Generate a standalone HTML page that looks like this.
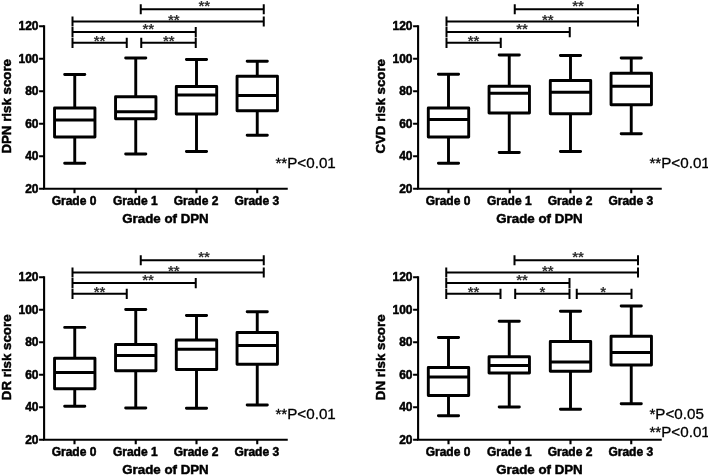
<!DOCTYPE html>
<html><head><meta charset="utf-8"><title>Risk scores by grade of DPN</title>
<style>
html,body{margin:0;padding:0;background:#fff}
svg{display:block}
text{font-family:"Liberation Sans",Arial,sans-serif;fill:#000}
.b{font-weight:bold}
.tk{font-size:12px;font-weight:bold;stroke:#000;stroke-width:.5}
.ti{font-size:13.3px;font-weight:bold;stroke:#000;stroke-width:.5}
.nt{font-size:15.2px;stroke:#000;stroke-width:.3}
.as{font-size:15px;font-weight:bold;fill:#333}
.ln{stroke:#000;stroke-width:2.1;fill:none}
.bx{stroke:#000;stroke-width:2.9;fill:none;stroke-linecap:round;stroke-linejoin:round}
.br{stroke:#000;stroke-width:2;fill:none}
</style></head><body>
<svg width="708" height="476" viewBox="0 0 708 476">
<rect width="708" height="476" fill="#fff"/>
<g transform="translate(0,0)">
<path class="ln" d="M44.1 25.15V189.85M43.05 188.8H287.75"/>
<path class="ln" d="M39.1 188.80H44.1M39.1 156.28H44.1M39.1 123.76H44.1M39.1 91.24H44.1M39.1 58.72H44.1M39.1 26.20H44.1M74.5 188.75V193.2M135.75 188.75V193.2M196.5 188.75V193.2M257.25 188.75V193.2"/>
<text class="tk" x="38.5" y="192.90" text-anchor="end">20</text>
<text class="tk" x="38.5" y="160.38" text-anchor="end">40</text>
<text class="tk" x="38.5" y="127.86" text-anchor="end">60</text>
<text class="tk" x="38.5" y="95.34" text-anchor="end">80</text>
<text class="tk" x="38.5" y="62.82" text-anchor="end">100</text>
<text class="tk" x="38.5" y="30.30" text-anchor="end">120</text>
<text class="tk" x="74.0" y="204.9" text-anchor="middle">Grade 0</text>
<text class="tk" x="135.25" y="204.9" text-anchor="middle">Grade 1</text>
<text class="tk" x="196.0" y="204.9" text-anchor="middle">Grade 2</text>
<text class="tk" x="256.75" y="204.9" text-anchor="middle">Grade 3</text>
<text class="ti" x="165.5" y="223.2" text-anchor="middle">Grade of DPN</text>
<text class="ti" transform="translate(10.5,106.3) rotate(-90)" text-anchor="middle">DPN risk score</text>
<path class="bx" d="M64.65 74.5H84.85M74.75 74.5V108M54.55 108H94.95V137H54.55ZM54.55 120H94.95M74.75 137V163.25M64.65 163.25H84.85"/>
<path class="bx" d="M125.65 58H145.85M135.75 58V96.75M115.55 96.75H155.95V118.75H115.55ZM115.55 111.75H155.95M135.75 118.75V154M125.65 154H145.85"/>
<path class="bx" d="M186.4 59.5H206.6M196.5 59.5V86.5M176.3 86.5H216.7V114H176.3ZM176.3 95H216.7M196.5 114V151.5M186.4 151.5H206.6"/>
<path class="bx" d="M247.15 61.25H267.35M257.25 61.25V76.25M237.05 76.25H277.45V110.75H237.05ZM237.05 95.5H277.45M257.25 110.75V135.25M247.15 135.25H267.35"/>
<path class="br" d="M140.75 4.25V14.35M140.75 9.25H263.75M263.75 4.25V14.35"/>
<text class="as" x="204.25" y="11.00" text-anchor="middle">**</text>
<path class="br" d="M72.5 16.45V26.549999999999997M72.5 21.45H263.75M263.75 16.45V26.549999999999997"/>
<text class="as" x="173.8" y="24.70" text-anchor="middle">**</text>
<path class="br" d="M72.5 27.1V37.2M72.5 32.1H195.75M195.75 27.1V37.2"/>
<text class="as" x="148.3" y="34.25" text-anchor="middle">**</text>
<path class="br" d="M72.5 37.8V47.9M72.5 42.8H126.75M126.75 37.8V47.9"/>
<text class="as" x="99.5" y="45.80" text-anchor="middle">**</text>
<path class="br" d="M141.25 37.8V47.9M141.25 42.8H195.75M195.75 37.8V47.9"/>
<text class="as" x="168.75" y="45.80" text-anchor="middle">**</text>
<text class="nt" x="275.4" y="167.7">**P&lt;0.01</text>
</g>
<g transform="translate(374,0)">
<path class="ln" d="M44.1 25.15V189.85M43.05 188.8H287.75"/>
<path class="ln" d="M39.1 188.80H44.1M39.1 156.28H44.1M39.1 123.76H44.1M39.1 91.24H44.1M39.1 58.72H44.1M39.1 26.20H44.1M74.5 188.75V193.2M135.75 188.75V193.2M196.5 188.75V193.2M257.25 188.75V193.2"/>
<text class="tk" x="38.5" y="192.90" text-anchor="end">20</text>
<text class="tk" x="38.5" y="160.38" text-anchor="end">40</text>
<text class="tk" x="38.5" y="127.86" text-anchor="end">60</text>
<text class="tk" x="38.5" y="95.34" text-anchor="end">80</text>
<text class="tk" x="38.5" y="62.82" text-anchor="end">100</text>
<text class="tk" x="38.5" y="30.30" text-anchor="end">120</text>
<text class="tk" x="74.0" y="204.9" text-anchor="middle">Grade 0</text>
<text class="tk" x="135.25" y="204.9" text-anchor="middle">Grade 1</text>
<text class="tk" x="196.0" y="204.9" text-anchor="middle">Grade 2</text>
<text class="tk" x="256.75" y="204.9" text-anchor="middle">Grade 3</text>
<text class="ti" x="165.5" y="223.2" text-anchor="middle">Grade of DPN</text>
<text class="ti" transform="translate(10.5,106.3) rotate(-90)" text-anchor="middle">CVD risk score</text>
<path class="bx" d="M64.4 74.25H84.6M74.5 74.25V108M54.3 108H94.7V137H54.3ZM54.3 119.5H94.7M74.5 137V163.25M64.4 163.25H84.6"/>
<path class="bx" d="M125.15 55H145.35M135.25 55V86.25M115.05 86.25H155.45V113H115.05ZM115.05 93.25H155.45M135.25 113V152.5M125.15 152.5H145.35"/>
<path class="bx" d="M186.4 55.5H206.6M196.5 55.5V80.5M176.3 80.5H216.7V113.75H176.3ZM176.3 92.25H216.7M196.5 113.75V151.5M186.4 151.5H206.6"/>
<path class="bx" d="M247.15 58H267.35M257.25 58V73.25M237.05 73.25H277.45V104.75H237.05ZM237.05 86.25H277.45M257.25 104.75V133.75M247.15 133.75H267.35"/>
<path class="br" d="M140.75 4.25V14.35M140.75 9.25H264M264 4.25V14.35"/>
<text class="as" x="204" y="11.00" text-anchor="middle">**</text>
<path class="br" d="M72.5 16.45V26.549999999999997M72.5 21.45H264M264 16.45V26.549999999999997"/>
<text class="as" x="173.8" y="24.70" text-anchor="middle">**</text>
<path class="br" d="M72.5 27.1V37.2M72.5 32.1H195.75M195.75 27.1V37.2"/>
<text class="as" x="148" y="34.25" text-anchor="middle">**</text>
<path class="br" d="M72.5 37.8V47.9M72.5 42.8H126.75M126.75 37.8V47.9"/>
<text class="as" x="99.5" y="45.80" text-anchor="middle">**</text>
<text class="nt" x="275.4" y="167.7">**P&lt;0.01</text>
</g>
<g transform="translate(0,251)">
<path class="ln" d="M44.1 25.15V189.85M43.05 188.8H287.75"/>
<path class="ln" d="M39.1 188.80H44.1M39.1 156.28H44.1M39.1 123.76H44.1M39.1 91.24H44.1M39.1 58.72H44.1M39.1 26.20H44.1M74.5 188.75V193.2M135.75 188.75V193.2M196.5 188.75V193.2M257.25 188.75V193.2"/>
<text class="tk" x="38.5" y="192.90" text-anchor="end">20</text>
<text class="tk" x="38.5" y="160.38" text-anchor="end">40</text>
<text class="tk" x="38.5" y="127.86" text-anchor="end">60</text>
<text class="tk" x="38.5" y="95.34" text-anchor="end">80</text>
<text class="tk" x="38.5" y="62.82" text-anchor="end">100</text>
<text class="tk" x="38.5" y="30.30" text-anchor="end">120</text>
<text class="tk" x="74.0" y="204.9" text-anchor="middle">Grade 0</text>
<text class="tk" x="135.25" y="204.9" text-anchor="middle">Grade 1</text>
<text class="tk" x="196.0" y="204.9" text-anchor="middle">Grade 2</text>
<text class="tk" x="256.75" y="204.9" text-anchor="middle">Grade 3</text>
<text class="ti" x="165.5" y="223.2" text-anchor="middle">Grade of DPN</text>
<text class="ti" transform="translate(10.5,106.3) rotate(-90)" text-anchor="middle">DR risk score</text>
<path class="bx" d="M64.65 76.4H84.85M74.75 76.4V107.25M54.55 107.25H94.95V137.75H54.55ZM54.55 121.5H94.95M74.75 137.75V155.25M64.65 155.25H84.85"/>
<path class="bx" d="M125.65 58.5H145.85M135.75 58.5V93.5M115.55 93.5H155.95V119.75H115.55ZM115.55 104.5H155.95M135.75 119.75V157M125.65 157H145.85"/>
<path class="bx" d="M186.4 64.5H206.6M196.5 64.5V89M176.3 89H216.7V118.5H176.3ZM176.3 98.25H216.7M196.5 118.5V157.25M186.4 157.25H206.6"/>
<path class="bx" d="M247.15 60.75H267.35M257.25 60.75V81.5M237.05 81.5H277.45V113.25H237.05ZM237.05 94.5H277.45M257.25 113.25V154M247.15 154H267.35"/>
<path class="br" d="M140.75 4.25V14.35M140.75 9.25H263.75M263.75 4.25V14.35"/>
<text class="as" x="204" y="11.00" text-anchor="middle">**</text>
<path class="br" d="M72.5 16.45V26.549999999999997M72.5 21.45H263.75M263.75 16.45V26.549999999999997"/>
<text class="as" x="173.8" y="24.70" text-anchor="middle">**</text>
<path class="br" d="M72.5 27.1V37.2M72.5 32.1H195.75M195.75 27.1V37.2"/>
<text class="as" x="148" y="34.25" text-anchor="middle">**</text>
<path class="br" d="M72.5 37.8V47.9M72.5 42.8H126.75M126.75 37.8V47.9"/>
<text class="as" x="99.5" y="45.80" text-anchor="middle">**</text>
<text class="nt" x="275.4" y="167.8">**P&lt;0.01</text>
</g>
<g transform="translate(374,251)">
<path class="ln" d="M44.1 25.15V189.85M43.05 188.8H287.75"/>
<path class="ln" d="M39.1 188.80H44.1M39.1 156.28H44.1M39.1 123.76H44.1M39.1 91.24H44.1M39.1 58.72H44.1M39.1 26.20H44.1M74.5 188.75V193.2M135.75 188.75V193.2M196.5 188.75V193.2M257.25 188.75V193.2"/>
<text class="tk" x="38.5" y="192.90" text-anchor="end">20</text>
<text class="tk" x="38.5" y="160.38" text-anchor="end">40</text>
<text class="tk" x="38.5" y="127.86" text-anchor="end">60</text>
<text class="tk" x="38.5" y="95.34" text-anchor="end">80</text>
<text class="tk" x="38.5" y="62.82" text-anchor="end">100</text>
<text class="tk" x="38.5" y="30.30" text-anchor="end">120</text>
<text class="tk" x="74.0" y="204.9" text-anchor="middle">Grade 0</text>
<text class="tk" x="135.25" y="204.9" text-anchor="middle">Grade 1</text>
<text class="tk" x="196.0" y="204.9" text-anchor="middle">Grade 2</text>
<text class="tk" x="256.75" y="204.9" text-anchor="middle">Grade 3</text>
<text class="ti" x="165.5" y="223.2" text-anchor="middle">Grade of DPN</text>
<text class="ti" transform="translate(10.5,106.3) rotate(-90)" text-anchor="middle">DN risk score</text>
<path class="bx" d="M64.4 86.5H84.6M74.5 86.5V116.5M54.3 116.5H94.7V144.5H54.3ZM54.3 126H94.7M74.5 144.5V164.75M64.4 164.75H84.6"/>
<path class="bx" d="M125.15 70.25H145.35M135.25 70.25V105.75M115.05 105.75H155.45V122H115.05ZM115.05 114.5H155.45M135.25 122V156M125.15 156H145.35"/>
<path class="bx" d="M186.4 60.25H206.6M196.5 60.25V90.5M176.3 90.5H216.7V120.25H176.3ZM176.3 111H216.7M196.5 120.25V158.25M186.4 158.25H206.6"/>
<path class="bx" d="M247.15 55H267.35M257.25 55V85.25M237.05 85.25H277.45V114H237.05ZM237.05 101.5H277.45M257.25 114V152.75M247.15 152.75H267.35"/>
<path class="br" d="M140.5 4.25V14.35M140.5 9.25H264M264 4.25V14.35"/>
<text class="as" x="204" y="11.00" text-anchor="middle">**</text>
<path class="br" d="M72.25 16.45V26.549999999999997M72.25 21.45H264M264 16.45V26.549999999999997"/>
<text class="as" x="173.8" y="24.70" text-anchor="middle">**</text>
<path class="br" d="M72.25 27.1V37.2M72.25 32.1H195.5M195.5 27.1V37.2"/>
<text class="as" x="148" y="34.25" text-anchor="middle">**</text>
<path class="br" d="M72.25 37.8V47.9M72.25 42.8H126.5M126.5 37.8V47.9"/>
<text class="as" x="99.5" y="45.80" text-anchor="middle">**</text>
<path class="br" d="M141.2 37.8V47.9M141.2 42.8H195.5M195.5 37.8V47.9"/>
<text class="as" x="168.5" y="45.80" text-anchor="middle">*</text>
<path class="br" d="M202.75 37.8V47.9M202.75 42.8H257.5M257.5 37.8V47.9"/>
<text class="as" x="229.25" y="45.80" text-anchor="middle">*</text>
<text class="nt" x="275.4" y="168">*P&lt;0.05</text>
<text class="nt" x="275.4" y="185.8">**P&lt;0.01</text>
</g>
</svg></body></html>
